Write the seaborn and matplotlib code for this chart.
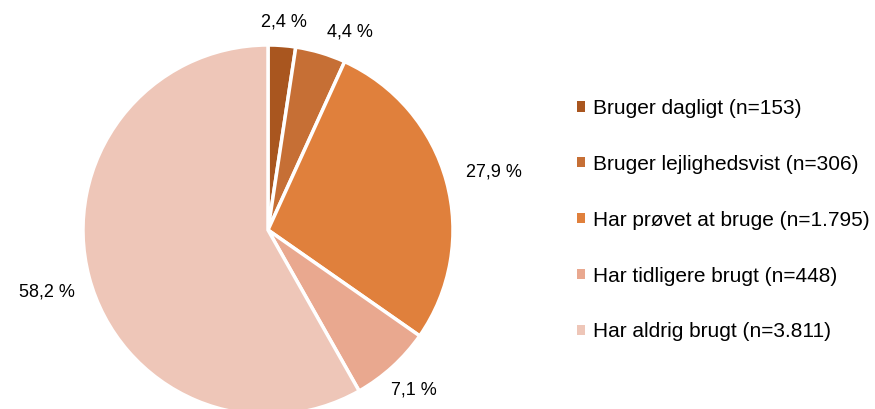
import matplotlib
matplotlib.use("Agg")
import matplotlib.pyplot as plt
from matplotlib.patches import Patch
import seaborn as sns
import numpy as np

# Data
categories = [
    "Bruger dagligt (n=153)",
    "Bruger lejlighedsvist (n=306)",
    "Har prøvet at bruge (n=1.795)",
    "Har tidligere brugt (n=448)",
    "Har aldrig brugt (n=3.811)",
]
shares = [2.4, 4.4, 27.9, 7.1, 58.2]
pct_labels = ["2,4 %", "4,4 %", "27,9 %", "7,1 %", "58,2 %"]
colors = sns.color_palette(["#A9561F", "#C66F35", "#E0803C", "#E9A88F", "#EEC6B8"])

sns.set_theme(style="white")
plt.rcParams["font.family"] = ["Liberation Sans", "DejaVu Sans"]

fig = plt.figure(figsize=(8.75, 4.09), dpi=100)
ax = fig.add_axes([0, 0, 1, 1])

# pie in pixel coordinates of the figure
cx, cy, r = 268, 179, 185
wedges, _ = ax.pie(
    shares, colors=colors, startangle=90, counterclock=False,
    center=(cx, cy), radius=r,
    wedgeprops=dict(edgecolor="white", linewidth=2.5),
)
ax.set_xlim(0, 875)
ax.set_ylim(0, 409)
ax.set_aspect("equal")
ax.axis("off")

# percent labels outside each wedge (distance factor, angle nudge in degrees)
label_dist = [1.13, 1.16, 1.26, 1.17, 1.24]
label_nudge = [0, -6, -1, 0, 1]
for w, txt, d, nd in zip(wedges, pct_labels, label_dist, label_nudge):
    ang = np.deg2rad((w.theta1 + w.theta2) / 2 + nd)
    ax.text(cx + d * r * np.cos(ang), cy + d * r * np.sin(ang), txt,
            ha="center", va="center", fontsize=13, color="black")

handles = [Patch(facecolor=c, edgecolor="none") for c in colors]
leg = fig.legend(handles, categories, loc="upper left", bbox_to_anchor=(0.638, 0.804),
                 frameon=False, fontsize=15, handlelength=0.38, handleheight=0.38,
                 handletextpad=0.4, labelspacing=1.77)
for t in leg.get_texts():
    t.set_color("black")

fig.savefig("out.png", dpi=100)
